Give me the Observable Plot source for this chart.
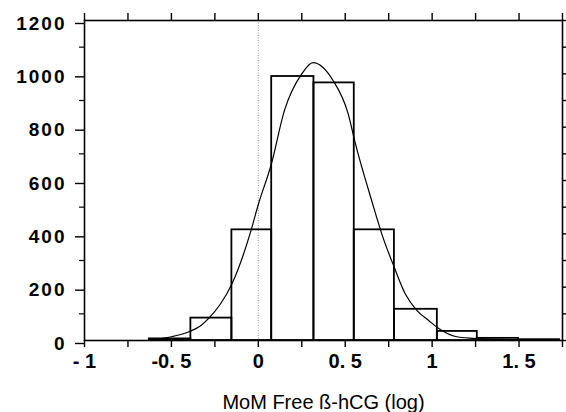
<!DOCTYPE html>
<html><head><meta charset="utf-8">
<script src="https://cdn.jsdelivr.net/npm/d3@7"></script>
<script src="https://cdn.jsdelivr.net/npm/@observablehq/plot@0.6"></script>
<style>
body{margin:0;background:#fff}
svg{display:block}
g[aria-label="y-axis tick label"] text{letter-spacing:2px}
</style>
</head><body><div id="chart"></div>
<script>
const binStart = [-0.627,-0.388,-0.152,0.077,0.32,0.552,0.783,1.03,1.26,1.497];
const binEnd   = [-0.388,-0.152,0.077,0.32,0.552,0.783,1.03,1.26,1.497,1.733];
const counts   = [6,84,415,990,966,415,117,34,8,3];

const curveX = [-0.62,-0.5,-0.41,-0.33,-0.29,-0.22,-0.15,-0.05,0.0,0.075,0.15,0.25,0.315,0.43,0.517,0.556,0.652,0.72,0.783,0.845,0.913,0.98,1.04,1.135,1.23,1.4,1.72];
const curveY = [3,14,30,56,80,135,215,395,510,662,862,1000,1042,975,850,745,525,381,273,175,112,75,44,15,8,4,2];

const xTicks = [-1,-0.5,0,0.5,1,1.5];
const xTickLabels = ["- 1","-0. 5","0","0. 5","1","1. 5"];
const xMinorTicks = [-1,-0.75,-0.5,-0.25,0,0.25,0.5,0.75,1,1.25,1.5,1.75];
const yTicks = [0,200,400,600,800,1000,1200];
const yMinorTicks = [100,300,500,700,900,1100];
const yAllTicks = [0,100,200,300,400,500,600,700,800,900,1000,1100,1200];
const xLabel = "MoM Free ß-hCG (log)";

const bins = binStart.map((s, i) => ({x1: s, x2: binEnd[i], y: counts[i]}));
const curve = curveX.map((x, i) => ({x, y: curveY[i]}));

const font = "'Liberation Sans', Arial, Helvetica, sans-serif";

const chart = Plot.plot({
  width: 566,
  height: 412,
  marginLeft: 84,
  marginRight: 4,
  marginTop: 20,
  marginBottom: 72,
  style: {fontFamily: font, background: "#fff", color: "#000"},
  x: {domain: [-1, 1.75]},
  y: {domain: [0, 1200]},
  marks: [
    Plot.ruleX([0], {stroke: "#777", strokeWidth: 0.8, strokeDasharray: "1,1.5"}),
    Plot.rectY(bins, {x1: "x1", x2: "x2", y: "y", fill: "none", stroke: "#000", strokeWidth: 1.8}),
    Plot.line(curve, {x: "x", y: "y", curve: "monotone-x", stroke: "#000", strokeWidth: 1.2}),
    Plot.frame({stroke: "#000", strokeWidth: 1.6}),
    Plot.axisX(xMinorTicks, {anchor: "bottom", tickSize: 7, tickFormat: () => "", label: null, strokeWidth: 1.4}),
    Plot.axisX(xTicks, {anchor: "bottom", tickSize: 0, tickPadding: 13, tickFormat: d => xTickLabels[xTicks.indexOf(d)], label: null, fontSize: 20, fontWeight: "bold"}),
    Plot.axisX(xMinorTicks, {anchor: "top", tickSize: 8, tickFormat: () => "", label: null, strokeWidth: 1.4}),
    Plot.axisY(yTicks, {anchor: "left", tickSize: 9, tickPadding: 9, tickFormat: d => String(d), label: null, fontSize: 19, fontWeight: "bold", strokeWidth: 1.4, dy: 3}),
    Plot.axisY(yMinorTicks, {anchor: "left", tickSize: 5, tickFormat: () => "", label: null, strokeWidth: 1.2}),
    Plot.axisY(yAllTicks, {anchor: "right", tickSize: 4, tickFormat: () => "", label: null, strokeWidth: 1.4}),
    Plot.text([xLabel], {frameAnchor: "bottom", dy: 62, lineAnchor: "middle", fontSize: 20, fontFamily: font})
  ]
});
document.getElementById("chart").appendChild(chart);
</script>
</body></html>
